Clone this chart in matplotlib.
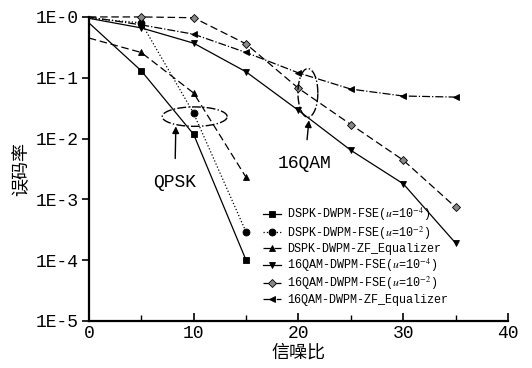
import numpy as np
import matplotlib
matplotlib.use("Agg")
import matplotlib.pyplot as plt
from matplotlib.ticker import FixedLocator, FixedFormatter, MultipleLocator

# SNR (dB)
snr_qpsk = [0, 5, 10, 15]
snr_16qam = [0, 5, 10, 15, 20, 25, 30, 35]

# BER values
ber_qpsk_fse_4 = [0.80, 0.13, 0.0117, 1.0e-4]
ber_qpsk_fse_2 = [0.95, 0.80, 0.026, 2.9e-4]
ber_qpsk_zf = [0.45, 0.26, 0.056, 2.3e-3]
ber_16qam_fse_4 = [0.95, 0.66, 0.37, 0.125, 0.029, 0.0064, 1.8e-3, 1.9e-4]
ber_16qam_fse_2 = [1.0, 1.0, 0.97, 0.36, 0.067, 0.017, 4.4e-3, 7.4e-4]
ber_16qam_zf = [1.0, 0.74, 0.52, 0.26, 0.12, 0.065, 0.05, 0.048]

labels = [
    r"DSPK-DWPM-FSE($u$=10$^{-4}$)",
    r"DSPK-DWPM-FSE($u$=10$^{-2}$)",
    "DSPK-DWPM-ZF_Equalizer",
    r"16QAM-DWPM-FSE($u$=10$^{-4}$)",
    r"16QAM-DWPM-FSE($u$=10$^{-2}$)",
    "16QAM-DWPM-ZF_Equalizer",
]

ytick_vals = [1e-5, 1e-4, 1e-3, 1e-2, 1e-1, 1]
ytick_labels = ["1E-5", "1E-4", "1E-3", "1E-2", "1E-1", "1E-0"]
xtick_vals = [0, 10, 20, 30, 40]

MONO = "Liberation Mono"
CJK = ["Noto Sans CJK SC", "DejaVu Sans"]
plt.rcParams["mathtext.fontset"] = "stix"

fig = plt.figure(figsize=(5.32, 3.68), dpi=100)
ax = fig.add_axes([0.167, 0.128, 0.788, 0.826])

series = [
    (snr_qpsk, ber_qpsk_fse_4, "-", "s", "black"),
    (snr_qpsk, ber_qpsk_fse_2, ":", "o", "black"),
    (snr_qpsk, ber_qpsk_zf, (0, (6, 3)), "^", "black"),
    (snr_16qam, ber_16qam_fse_4, "-", "v", "black"),
    (snr_16qam, ber_16qam_fse_2, (0, (6, 3)), "D", "#888888"),
    (snr_16qam, ber_16qam_zf, "-.", "<", "black"),
]

for (x, y, ls, mk, fc), lab in zip(series, labels):
    ax.plot(x, y, linestyle=ls, marker=mk, color="black", markerfacecolor=fc,
            markeredgecolor="black", markeredgewidth=0.6,
            markersize=5 if mk != "D" else 4,
            linewidth=0.9, label=lab, markevery=slice(1, None), clip_on=False)

ax.set_yscale("log")
ax.set_ylim(1e-5, 1)
ax.set_xlim(0, 40)

ax.yaxis.set_major_locator(FixedLocator(ytick_vals))
ax.yaxis.set_major_formatter(FixedFormatter(ytick_labels))
ax.yaxis.set_minor_locator(FixedLocator([]))
ax.xaxis.set_major_locator(FixedLocator(xtick_vals))
ax.xaxis.set_minor_locator(MultipleLocator(5))

for s in ["top", "right"]:
    ax.spines[s].set_visible(False)
for s in ["left", "bottom"]:
    ax.spines[s].set_linewidth(1.6)

ax.tick_params(axis="y", which="major", direction="out", length=5, width=1.2, pad=2)
ax.tick_params(axis="x", which="major", direction="in", length=6, width=1.2, pad=3)
ax.tick_params(axis="x", which="minor", direction="in", length=4, width=1.0)
for t in ax.get_xticklabels() + ax.get_yticklabels():
    t.set_fontfamily(MONO)
    t.set_fontsize(13)

ax.set_ylabel("误码率", family=CJK, fontsize=13, labelpad=4)
ax.set_xlabel("信噪比", family=CJK, fontsize=13, labelpad=1)


# annotation ellipses
def ellipse(cx, cy_log, a, b_log):
    t = np.linspace(0, 2 * np.pi, 200)
    ax.plot(cx + a * np.cos(t), 10 ** (cy_log + b_log * np.sin(t)),
            linestyle="-.", color="black", linewidth=1.0)


ellipse(10.1, -1.64, 3.1, 0.16)
ellipse(20.9, -1.25, 0.95, 0.40)

ax.annotate("QPSK", xy=(8.3, 10 ** -1.80), xytext=(8.2, 10 ** -2.72),
            ha="center", va="center", fontsize=13, family=MONO,
            arrowprops=dict(arrowstyle="-|>", color="black", lw=1.0,
                            mutation_scale=10, shrinkA=9, shrinkB=0))
ax.annotate("16QAM", xy=(21.0, 10 ** -1.70), xytext=(20.6, 10 ** -2.41),
            ha="center", va="center", fontsize=13, family=MONO,
            arrowprops=dict(arrowstyle="-|>", color="black", lw=1.0,
                            mutation_scale=10, shrinkA=9, shrinkB=0))

ax.legend(loc="upper left", bbox_to_anchor=(0.405, 0.395), frameon=False,
          handlelength=1.5, handletextpad=0.5, labelspacing=0.12,
          borderaxespad=0, prop={"family": MONO, "size": 8.5})

fig.savefig("out.png", dpi=100)
